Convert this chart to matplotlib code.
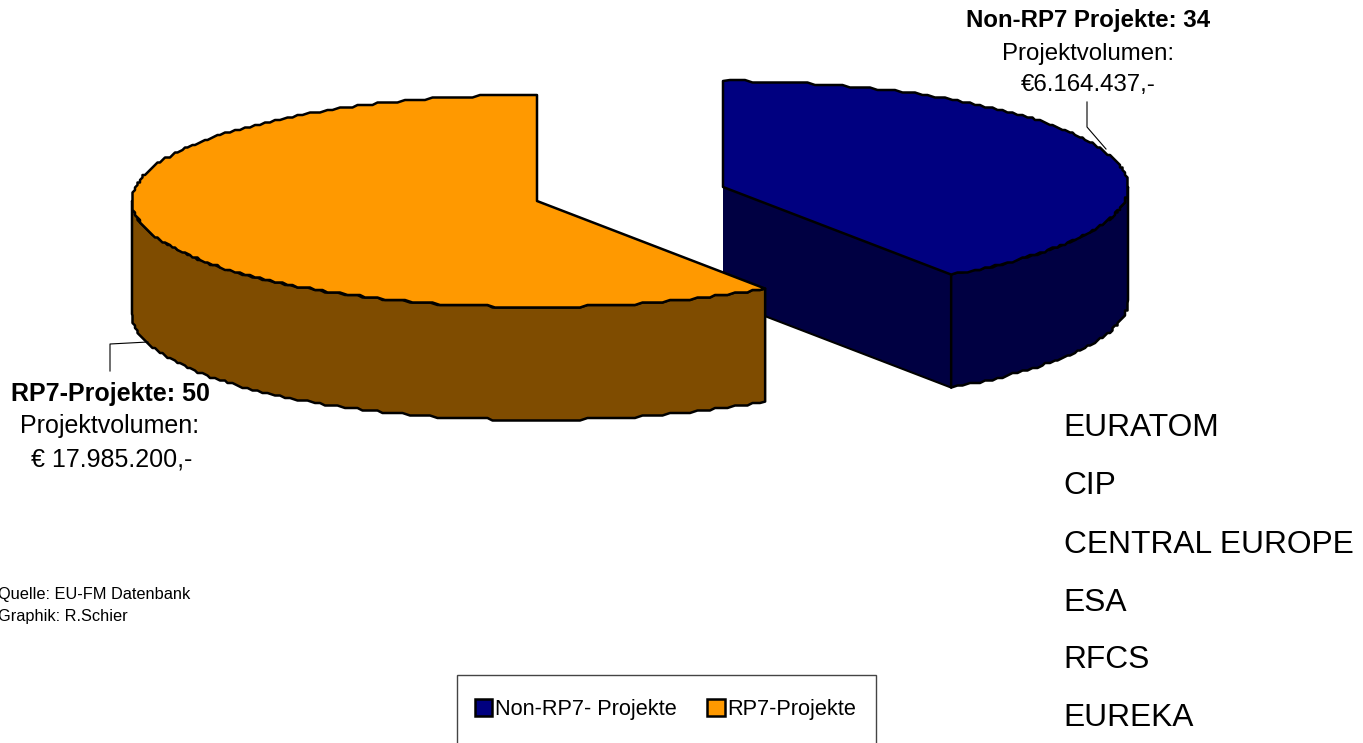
import numpy as np
import matplotlib
matplotlib.use('Agg')
import matplotlib.pyplot as plt
from matplotlib.patches import Patch, Polygon, Rectangle

# Dados
categorias = ['Non-RP7- Projekte', 'RP7-Projekte']
projekte = [34, 50]
cores_topo = ['#000080', '#FF9900']
cores_lado = ['#000042', '#7F4C00']
programme = ['EURATOM', 'CIP', 'CENTRAL EUROPE', 'ESA', 'RFCS', 'EUREKA']
programme_y = [428, 486, 545, 603, 660, 718]

plt.rcParams['font.family'] = ['Liberation Sans', 'DejaVu Sans']

fig = plt.figure(figsize=(13.63, 7.43), dpi=100)
ax = fig.add_axes([0, 0, 1, 1])
ax.set_xlim(0, 1363)
ax.set_ylim(743, 0)
ax.axis('off')

# Geometria da pizza em pixels
A = 405
B = 106
ALTURA = 113
centro_azul = (723, 187)
centro_laranja = (537, 201)


def arco(centro, t0, t1, degrau=2.5):
    # contorno levemente serrilhado, como no original
    n = max(int(abs(t1 - t0)), 2)
    t = np.radians(np.linspace(t0, t1, n))
    x = centro[0] + A * np.sin(t)
    y = centro[1] - B * np.cos(t)
    y[1:-1] = np.round(y[1:-1] / degrau) * degrau
    x[1:-1] = np.round(x[1:-1] / degrau) * degrau
    return np.column_stack([x, y])


def poligono(pts, cor, zorder):
    ax.add_patch(Polygon(pts, closed=True, facecolor=cor, edgecolor='black',
                         linewidth=1.8, joinstyle='round', zorder=zorder))


angulo = 360 * projekte[0] / sum(projekte)
desce = np.array([0, ALTURA])

# Fatia azul (Non-RP7)
topo = arco(centro_azul, 0, angulo)
ponta = topo[-1]
ax.add_patch(Polygon([centro_azul, ponta, ponta + desce, np.array(centro_azul) + desce],
                     closed=True, facecolor=cores_lado[0], edgecolor='none', zorder=1))
ax.plot([centro_azul[0], ponta[0]], [centro_azul[1] + ALTURA, ponta[1] + ALTURA],
        color='black', lw=1.5, zorder=1.1)
lado = arco(centro_azul, 90, angulo)
poligono(np.vstack([lado, (lado + desce)[::-1]]), cores_lado[0], 2)
poligono(np.vstack([[centro_azul], topo]), cores_topo[0], 3)

# Fatia laranja (RP7)
topo = arco(centro_laranja, angulo, 360)
lado = arco(centro_laranja, angulo, 270)
poligono(np.vstack([lado, (lado + desce)[::-1]]), cores_lado[1], 4)
poligono(np.vstack([[centro_laranja], topo]), cores_topo[1], 5)

# Linhas de chamada
ax.plot([1087, 1087, 1106], [102, 127, 149], color='black', lw=0.8, zorder=6)
ax.plot([110, 110, 148], [371, 344, 342], color='black', lw=0.8, zorder=6)

# Rotulos
fs = 17.3
ax.text(1088, 20, f'Non-RP7 Projekte: {projekte[0]}', fontsize=fs, fontweight='bold', ha='center', va='center')
ax.text(1088, 54, 'Projektvolumen:', fontsize=fs, ha='center', va='center')
ax.text(1088, 85, '€6.164.437,-', fontsize=fs, ha='center', va='center')
ax.text(110, 394, f'RP7-Projekte: {projekte[1]}', fontsize=18, fontweight='bold', ha='center', va='center')
ax.text(110, 426, 'Projektvolumen:', fontsize=18, ha='center', va='center')
ax.text(112, 459, '€ 17.985.200,-', fontsize=18, ha='center', va='center')

ax.text(-2, 594, 'Quelle: EU-FM Datenbank', fontsize=11.8, va='center')
ax.text(-2, 616, 'Graphik: R.Schier', fontsize=11.8, va='center')

for nome, y in zip(programme, programme_y):
    ax.text(1063.5, y, nome, fontsize=22.9, va='center')

# Legenda
ax.add_patch(Rectangle((457, 675), 419, 90, facecolor='white', edgecolor='#444444', linewidth=1.0, zorder=6))
handles = [Patch(facecolor=c, edgecolor='black', linewidth=1.8) for c in cores_topo]
leg = ax.legend(handles, categorias, ncol=2, loc='upper left', bbox_to_anchor=(475, 699),
                bbox_transform=ax.transData, borderaxespad=0, borderpad=0, fontsize=15.7, frameon=False,
                handlelength=0.8, handleheight=0.8, handletextpad=0.12, columnspacing=1.4)
leg.set_zorder(7)

fig.savefig('out.png', dpi=100)
